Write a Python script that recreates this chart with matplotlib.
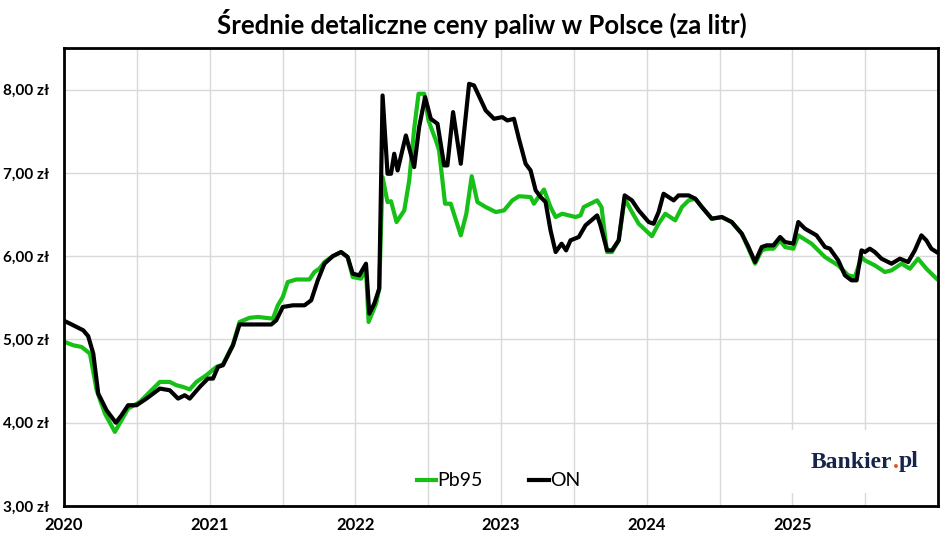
import matplotlib
matplotlib.use("Agg")
import matplotlib.pyplot as plt
from matplotlib.patches import Rectangle
from matplotlib.ticker import FixedLocator, FuncFormatter

# ---- data (decimal years, PLN per litre) ----
on_t = [0.005, 0.041, 0.132, 0.166, 0.201, 0.235, 0.292, 0.356, 0.395, 0.440, 0.498, 0.566, 0.658, 0.726,
        0.783, 0.829, 0.863, 0.932, 0.988, 1.023, 1.057, 1.091, 1.160, 1.205, 1.274, 1.423, 1.457, 1.502,
        1.571, 1.651, 1.697, 1.742, 1.788, 1.845, 1.902, 1.947, 1.982, 2.027, 2.073, 2.096, 2.130, 2.164,
        2.187, 2.221, 2.245, 2.267, 2.290, 2.347, 2.404, 2.438, 2.479, 2.518, 2.564, 2.610, 2.632, 2.671,
        2.724, 2.781, 2.815, 2.895, 2.952, 3.009, 3.043, 3.089, 3.123, 3.169, 3.203, 3.238, 3.272, 3.306,
        3.340, 3.375, 3.416, 3.447, 3.477, 3.534, 3.580, 3.660, 3.683, 3.728, 3.762, 3.808, 3.849, 3.899,
        3.945, 4.014, 4.048, 4.082, 4.116, 4.185, 4.219, 4.288, 4.334, 4.379, 4.447, 4.516, 4.584, 4.653,
        4.699, 4.744, 4.790, 4.824, 4.870, 4.916, 4.950, 5.007, 5.041, 5.087, 5.166, 5.224, 5.258, 5.315,
        5.361, 5.406, 5.441, 5.475, 5.498, 5.532, 5.566, 5.612, 5.681, 5.738, 5.795, 5.841, 5.886, 5.920,
        5.954, 5.990]
on_v = [5.22, 5.19, 5.11, 5.04, 4.83, 4.35, 4.15, 4.00, 4.09, 4.21, 4.21, 4.29, 4.41, 4.39,
        4.29, 4.33, 4.29, 4.43, 4.53, 4.53, 4.67, 4.69, 4.93, 5.18, 5.18, 5.18, 5.23, 5.39,
        5.41, 5.41, 5.47, 5.71, 5.91, 6.00, 6.05, 5.99, 5.79, 5.77, 5.91, 5.31, 5.43, 5.61,
        7.93, 6.99, 6.99, 7.23, 7.03, 7.45, 7.07, 7.55, 7.91, 7.65, 7.59, 7.09, 7.09, 7.73,
        7.11, 8.07, 8.05, 7.75, 7.65, 7.67, 7.63, 7.65, 7.41, 7.11, 7.03, 6.79, 6.71, 6.65,
        6.31, 6.05, 6.15, 6.07, 6.19, 6.23, 6.37, 6.49, 6.37, 6.07, 6.07, 6.19, 6.73, 6.67,
        6.55, 6.41, 6.39, 6.53, 6.75, 6.67, 6.73, 6.73, 6.69, 6.59, 6.45, 6.47, 6.41, 6.27,
        6.11, 5.93, 6.11, 6.13, 6.13, 6.23, 6.17, 6.15, 6.41, 6.33, 6.25, 6.11, 6.09, 5.95,
        5.77, 5.71, 5.71, 6.07, 6.05, 6.09, 6.05, 5.97, 5.91, 5.97, 5.93, 6.07, 6.25, 6.19,
        6.09, 6.05]

pb_t = [0.005, 0.064, 0.121, 0.178, 0.224, 0.281, 0.349, 0.395, 0.440, 0.521, 0.589, 0.658, 0.726, 0.772,
        0.817, 0.863, 0.909, 0.977, 1.046, 1.091, 1.160, 1.205, 1.274, 1.331, 1.434, 1.468, 1.502, 1.536,
        1.594, 1.685, 1.719, 1.753, 1.788, 1.845, 1.902, 1.947, 1.982, 2.039, 2.073, 2.091, 2.142, 2.164,
        2.187, 2.221, 2.245, 2.283, 2.336, 2.370, 2.404, 2.434, 2.473, 2.502, 2.553, 2.575, 2.616, 2.655,
        2.724, 2.762, 2.799, 2.838, 2.895, 2.964, 3.021, 3.078, 3.123, 3.203, 3.226, 3.249, 3.295, 3.340,
        3.375, 3.420, 3.512, 3.546, 3.568, 3.660, 3.690, 3.728, 3.762, 3.808, 3.849, 3.899, 3.945, 4.036,
        4.082, 4.128, 4.196, 4.242, 4.288, 4.334, 4.379, 4.447, 4.516, 4.584, 4.653, 4.699, 4.744, 4.790,
        4.824, 4.870, 4.916, 4.950, 5.007, 5.041, 5.132, 5.224, 5.315, 5.384, 5.429, 5.475, 5.498, 5.566,
        5.635, 5.681, 5.750, 5.807, 5.863, 5.920, 5.990]
pb_v = [4.97, 4.93, 4.91, 4.83, 4.39, 4.11, 3.89, 4.03, 4.17, 4.25, 4.37, 4.49, 4.49, 4.45,
        4.43, 4.40, 4.49, 4.57, 4.67, 4.70, 4.94, 5.21, 5.26, 5.27, 5.25, 5.41, 5.51, 5.69,
        5.72, 5.72, 5.81, 5.85, 5.93, 6.00, 6.05, 5.99, 5.75, 5.73, 5.85, 5.21, 5.43, 5.61,
        6.95, 6.65, 6.66, 6.41, 6.55, 6.91, 7.53, 7.95, 7.95, 7.63, 7.39, 7.27, 6.63, 6.63,
        6.25, 6.51, 6.96, 6.65, 6.59, 6.53, 6.55, 6.67, 6.72, 6.71, 6.63, 6.69, 6.80, 6.59,
        6.47, 6.51, 6.47, 6.49, 6.59, 6.67, 6.59, 6.05, 6.05, 6.19, 6.69, 6.53, 6.39, 6.24,
        6.39, 6.51, 6.43, 6.59, 6.67, 6.69, 6.59, 6.45, 6.47, 6.41, 6.27, 6.09, 5.91, 6.07,
        6.09, 6.09, 6.19, 6.11, 6.09, 6.25, 6.15, 5.99, 5.89, 5.77, 5.75, 5.99, 5.95, 5.89,
        5.81, 5.83, 5.91, 5.85, 5.97, 5.85, 5.73]

start_year = 2020
year_labels = ["2020", "2021", "2022", "2023", "2024", "2025"]
y_ticks = [3, 4, 5, 6, 7, 8]
title = "Średnie detaliczne ceny paliw w Polsce (za litr)"
series_names = ["Pb95", "ON"]

# ---- plot ----
plt.rcParams['font.family'] = ['Lato', 'DejaVu Sans']
fig = plt.figure(figsize=(9.48, 5.52), dpi=100)
ax = fig.add_axes([64/948, 46/552, (938-64)/948, (506-48)/552])

on_x = [start_year + t for t in on_t]
pb_x = [start_year + t for t in pb_t]
green = '#16c016'
ax.plot(pb_x, pb_v, color=green, lw=3.0, label=series_names[0], zorder=3, solid_joinstyle='round')
ax.plot(on_x, on_v, color='black', lw=3.0, label=series_names[1], zorder=4, solid_joinstyle='round')

ax.set_xlim(2020, 2026)
ax.set_ylim(3, 8.5)
ax.xaxis.set_major_locator(FixedLocator([2020 + i for i in range(len(year_labels))]))
ax.xaxis.set_major_formatter(FuncFormatter(lambda v, p: year_labels[int(round(v)) - 2020] if 0 <= int(round(v)) - 2020 < len(year_labels) else ""))
ax.xaxis.set_minor_locator(FixedLocator([2020.5 + i for i in range(6)]))
ax.yaxis.set_major_locator(FixedLocator(y_ticks))
ax.yaxis.set_major_formatter(FuncFormatter(lambda v, p: f"{v:.2f}".replace('.', ',') + " zł"))

ax.grid(True, which='both', axis='x', color='#d9d9d9', lw=1.0, zorder=0)
ax.grid(True, which='major', axis='y', color='#d9d9d9', lw=1.0, zorder=0)
ax.set_axisbelow(True)
ax.tick_params(axis='both', which='both', length=0)
ax.tick_params(axis='y', pad=11, labelsize=11)
ax.tick_params(axis='x', pad=8, labelsize=12)
for lab in ax.get_xticklabels() + ax.get_yticklabels():
    lab.set_fontweight('bold')
for sp in ax.spines.values():
    sp.set_color('black')
    sp.set_linewidth(2.0)
    sp.set_zorder(5)

# white box behind logo
ax.add_patch(Rectangle(((790-64)/874, (506-493)/458), (937-790)/874, 63/458,
                       transform=ax.transAxes, facecolor='white', edgecolor='none', zorder=1))

leg = ax.legend(loc='center', bbox_to_anchor=(0.497, 0.055), ncol=2, frameon=False,
                fontsize=14, handlelength=1.0, handletextpad=0.05, columnspacing=2.4)
for line in leg.get_lines():
    line.set_linewidth(3.0)

fig.text(0.508, 0.958, title, ha='center', va='center', fontsize=18.5, fontweight='bold')

# logo
fig.canvas.draw()
r = fig.canvas.get_renderer()
lx, ly = 811/948, 1 - 462/552
logo_kw = dict(fontsize=17, fontweight='bold', family='Liberation Serif', va='center', ha='left')
t1 = fig.text(lx, ly, "Bankier", color='#16244a', **logo_kw)
bb = t1.get_window_extent(r)
t2 = fig.text(bb.x1 / fig.bbox.width, ly, ".", color='#e8501c', **logo_kw)
bb2 = t2.get_window_extent(r)
fig.text(bb2.x1 / fig.bbox.width, ly, "pl", color='#16244a', **logo_kw)

fig.savefig("out.png", dpi=100, facecolor='white')
